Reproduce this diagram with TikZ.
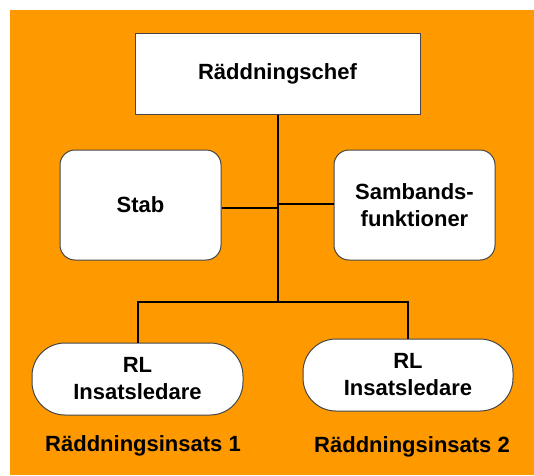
\documentclass[tikz,border=0pt]{standalone}
\usepackage{fontspec}
\setmainfont{Liberation Sans}
\usepackage{tikz}
\usetikzlibrary{positioning}
\definecolor{orgbg}{RGB}{255,153,0}
\definecolor{boxline}{RGB}{70,70,70}

\begin{document}
\begin{tikzpicture}[x=1pt, y=-1pt]
            \tikzstyle{orgbox} = [rectangle, draw=boxline, line width=1pt, fill=white,
                                  align=center, inner sep=0pt, font=\fontsize{22}{27}\selectfont\bfseries]
            \tikzstyle{lead} = [orgbox, rounded corners=33pt, minimum width=211pt, minimum height=72pt]
            \tikzstyle{link} = [line width=2pt, black]

            \useasboundingbox (0,0) rectangle (534,475);
            \fill [orgbg] (10,10) rectangle (534,475);

            \node (chef) [orgbox, minimum width=285pt, minimum height=81pt] at (277.5,73.5) {Räddningschef};
            \node (stab) [orgbox, rounded corners=15pt, minimum width=161pt, minimum height=110pt] at (140.5,205) {Stab};
            \node (samb) [orgbox, rounded corners=15pt, minimum width=161pt, minimum height=110pt] at (414.5,205) {Sambands-\\funktioner};
            \node (rl1) [lead] at (137.5,379) {RL\\Insatsledare};
            \node (rl2) [lead, minimum width=210pt] at (408,375) {RL\\Insatsledare};
            \node (ins1) [anchor=base, font=\fontsize{22}{27}\selectfont\bfseries] at (143,451) {Räddningsinsats 1};
            \node (ins2) [anchor=base, font=\fontsize{22}{27}\selectfont\bfseries] at (412,452) {Räddningsinsats 2};

            \coordinate (bus) at (278,302);
            \coordinate (jstab) at (278,208);
            \coordinate (jsamb) at (278,204);

            \draw [link] (chef.south -| bus) -- (bus);
            \draw [link] (jstab) -- (jstab -| stab.east);
            \draw [link] (jsamb) -- (jsamb -| samb.west);
            \draw [link] (rl1.north) |- (bus) -| (rl2.north);
        \end{tikzpicture}
\end{document}
